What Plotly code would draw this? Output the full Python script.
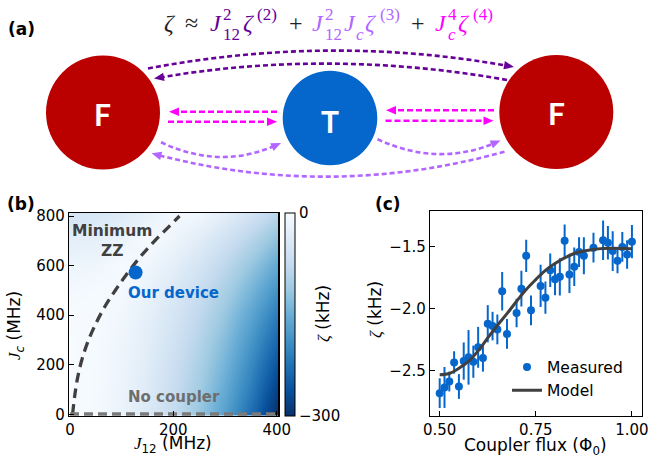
import math
import plotly.graph_objects as go

W, H = 649, 460

# ---------------- data ----------------
# panel (b): ZZ map (kHz) on a J12 x Jc grid (MHz)
j12_grid = [0, 50, 100, 150, 200, 250, 300, 350, 400]
jc_grid = [0, 100, 200, 300, 400, 500, 600, 700, 800]
zeta_map = [
    [0.0, -4.7, -18.8, -42.2, -75.0, -117.0, -169.0, -230.0, -300.0],
    [0.0, -4.3, -17.3, -39.0, -69.0, -108.0, -156.0, -212.0, -280.0],
    [-0.1, -3.9, -15.8, -35.7, -64.0, -99.5, -143.0, -197.0, -258.0],
    [-0.7, -2.9, -13.8, -32.0, -57.5, -90.0, -131.0, -180.0, -236.0],
    [-2.3, -1.0, -10.8, -27.3, -50.0, -80.0, -117.0, -162.0, -212.0],
    [-6.5, -3.0, -6.1, -20.8, -41.4, -68.0, -101.0, -141.0, -186.0],
    [-15.0, -12.0, -2.0, -11.6, -29.7, -53.0, -82.5, -118.0, -158.0],
    [-29.0, -26.0, -16.0, -2.0, -14.2, -34.3, -60.0, -90.0, -126.0],
    [-50.0, -46.0, -37.0, -23.0, -6.7, -10.3, -32.0, -57.0, -88.0],
]
min_zz_j12 = [5, 9.5, 15, 23, 35, 51, 69, 91, 115, 138, 164, 193, 212]
min_zz_jc = [0, 80, 150, 220, 295, 370, 440, 510, 580, 640, 700, 760, 800]
no_coupler_j12 = [0, 400]
no_coupler_jc = [0, 0]
device_j12 = [127]
device_jc = [572]

# panel (c): measured ZZ vs coupler flux
flux_meas = [0.5000, 0.5125, 0.5250, 0.5375, 0.5500, 0.5625, 0.5750, 0.5875, 0.6000,
             0.6125, 0.6250, 0.6375, 0.6500, 0.6625, 0.6750, 0.7000, 0.7125, 0.7250,
             0.7375, 0.7625, 0.7750, 0.7875, 0.8000, 0.8125, 0.8250, 0.8375, 0.8500,
             0.8625, 0.8750, 0.9000, 0.9250, 0.9375, 0.9500, 0.9625, 0.9750, 0.9875, 1.0000]
zeta_meas = [-2.681, -2.635, -2.587, -2.433, -2.627, -2.422, -2.392, -2.427, -2.311,
             -2.397, -2.121, -2.140, -2.167, -1.859, -2.203, -2.035, -1.838, -1.573,
             -2.013, -1.816, -1.911, -1.689, -1.762, -1.743, -1.451, -1.724, -1.662,
             -1.543, -1.573, -1.508, -1.448, -1.468, -1.535, -1.613, -1.502, -1.562, -1.459]
zeta_err = [0.12, 0.165, 0.08, 0.09, 0.10, 0.15, 0.22, 0.13, 0.165,
            0.11, 0.15, 0.115, 0.12, 0.155, 0.12, 0.115, 0.145, 0.13,
            0.12, 0.17, 0.13, 0.135, 0.13, 0.15, 0.13, 0.15, 0.155,
            0.12, 0.15, 0.12, 0.16, 0.135, 0.16, 0.10, 0.12, 0.115, 0.135]
flux_model = [0.50, 0.525, 0.55, 0.575, 0.60, 0.625, 0.65, 0.675, 0.70, 0.725, 0.75,
              0.775, 0.80, 0.825, 0.85, 0.875, 0.90, 0.925, 0.95, 0.975, 1.00]
zeta_model = [-2.532, -2.522, -2.48, -2.425, -2.34, -2.235, -2.135, -2.04, -1.94, -1.845,
              -1.765, -1.69, -1.635, -1.59, -1.555, -1.535, -1.522, -1.515, -1.513, -1.514, -1.516]

b_xticks = [0, 200, 400]
b_yticks = [0, 200, 400, 600, 800]
c_xticks = [0.5, 0.75, 1.0]
c_xticktext = ["0.50", "0.75", "1.00"]
c_yticks = [-2.5, -2.0, -1.5]
c_yticktext = ["\u22122.5", "\u22122.0", "\u22121.5"]

# ---------------- styles ----------------
RED = "#bb0000"
BLUE = "#0566cc"
DPURPLE = "#660099"
LPURPLE = "#b266ff"
MAGENTA = "#ff00ff"
DGRAY = "#404040"
FONT = "DejaVu Sans"
SERIF = "Liberation Serif"

blues_r = [[0.0, "rgb(8,48,107)"], [0.125, "rgb(8,81,156)"], [0.25, "rgb(33,113,181)"],
           [0.375, "rgb(66,146,198)"], [0.5, "rgb(107,174,214)"], [0.625, "rgb(158,202,225)"],
           [0.75, "rgb(198,219,239)"], [0.875, "rgb(222,235,247)"], [1.0, "rgb(247,251,255)"]]


def px(x):
    return x / W


def py(y):
    return 1 - y / H


fig = go.Figure()

# ---------------- panel (b) ----------------
fig.add_trace(go.Heatmap(
    x=j12_grid, y=jc_grid, z=zeta_map, zmin=-300, zmax=0, colorscale=blues_r,
    zsmooth="best", xaxis="x", yaxis="y", showlegend=False, hoverinfo="skip",
    colorbar=dict(x=px(285), xanchor="left", xpad=0, ypad=0, thickness=10,
                  thicknessmode="pixels", len=(415.7 - 212.7) / H, lenmode="fraction",
                  y=py(415.7), yanchor="bottom", outlinewidth=1, outlinecolor="black",
                  tickvals=[-300, 0], ticktext=["\u2212300", "0"], ticks="inside",
                  ticklen=4, tickcolor="black",
                  tickfont=dict(family=FONT, size=15, color="black")),
))
fig.add_trace(go.Scatter(x=min_zz_j12, y=min_zz_jc, mode="lines", xaxis="x", yaxis="y",
                         line=dict(color=DGRAY, width=3.3, dash="10px,6px", shape="spline"),
                         showlegend=False, hoverinfo="skip"))
fig.add_trace(go.Scatter(x=no_coupler_j12, y=no_coupler_jc, mode="lines", xaxis="x", yaxis="y",
                         line=dict(color="#7a7a7a", width=4, dash="9px,5px"),
                         showlegend=False, hoverinfo="skip"))
fig.add_trace(go.Scatter(x=device_j12, y=device_jc, mode="markers", xaxis="x", yaxis="y",
                         marker=dict(color=BLUE, size=14), showlegend=False, hoverinfo="skip"))

# ---------------- panel (c) ----------------
fig.add_trace(go.Scatter(x=flux_meas, y=zeta_meas, mode="markers", name="Measured",
                         xaxis="x2", yaxis="y2", hoverinfo="skip",
                         marker=dict(color=BLUE, size=8),
                         error_y=dict(type="data", array=zeta_err, color=BLUE, thickness=2, width=0)))
fig.add_trace(go.Scatter(x=flux_model, y=zeta_model, mode="lines", name="Model",
                         xaxis="x2", yaxis="y2", hoverinfo="skip",
                         line=dict(color=DGRAY, width=3, shape="spline")))

axis_common = dict(showgrid=False, zeroline=False, showline=True, linecolor="black",
                   linewidth=1.2, mirror=True, ticks="inside", ticklen=5, tickwidth=1,
                   tickcolor="black", automargin=False, fixedrange=True,
                   tickfont=dict(family=FONT, size=15, color="black"))

fig.update_layout(
    width=W, height=H, margin=dict(l=0, r=0, t=0, b=0, pad=0, autoexpand=False),
    paper_bgcolor="white", plot_bgcolor="white", hovermode=False,
    xaxis=dict(domain=[px(69), px(278.3)], anchor="y", range=[-1.9, 403.1],
               tickvals=b_xticks, **axis_common),
    yaxis=dict(domain=[py(415.7), py(212.7)], anchor="x", range=[-5.6, 813.3],
               tickvals=b_yticks, **axis_common),
    xaxis2=dict(domain=[px(430), px(641.5)], anchor="y2", range=[0.4748, 1.0249],
                tickvals=c_xticks, ticktext=c_xticktext, **axis_common),
    yaxis2=dict(domain=[py(416), py(211)], anchor="x2", range=[-2.865, -1.212],
                tickvals=c_yticks, ticktext=c_yticktext, **axis_common),
    legend=dict(x=px(507), y=py(350.5), xanchor="left", yanchor="top",
                bgcolor="rgba(0,0,0,0)", font=dict(family=FONT, size=15.5, color="black"),
                tracegroupgap=0),
)

# ---------------- panel (a) diagram ----------------
shapes = []


def circle(cx, cy, r, color):
    shapes.append(dict(type="circle", xref="paper", yref="paper",
                       x0=px(cx - r), x1=px(cx + r), y0=py(cy + r), y1=py(cy - r),
                       fillcolor=color, line=dict(width=0), layer="above"))


def P(x, y):
    return f"{px(x):.5f},{py(y):.5f}"


def head(tip, d, color, L=10, w=4.2):
    n = (-d[1], d[0])
    bx, by = tip[0] - L * d[0], tip[1] - L * d[1]
    p1 = (bx + w * n[0], by + w * n[1])
    p2 = (bx - w * n[0], by - w * n[1])
    shapes.append(dict(type="path", xref="paper", yref="paper",
                       path=f"M{P(*tip)} L{P(*p1)} L{P(*p2)} Z",
                       fillcolor=color, line=dict(width=0), layer="above"))


def unit(a, b):
    dx, dy = b[0] - a[0], b[1] - a[1]
    m = math.hypot(dx, dy)
    return (dx / m, dy / m)


def curved_arrow(start, ctrl, tip, color):
    d = unit(ctrl, tip)
    end = (tip[0] - 6 * d[0], tip[1] - 6 * d[1])
    shapes.append(dict(type="path", xref="paper", yref="paper",
                       path=f"M{P(*start)} Q{P(*ctrl)} {P(*end)}",
                       line=dict(color=color, width=2.6, dash="5px,3px"), layer="above"))
    head(tip, d, color)


def straight_arrow(start, tip, color):
    d = unit(start, tip)
    end = (tip[0] - 6 * d[0], tip[1] - 6 * d[1])
    shapes.append(dict(type="path", xref="paper", yref="paper",
                       path=f"M{P(*start)} L{P(*end)}",
                       line=dict(color=color, width=2.6, dash="6px,3px"), layer="above"))
    head(tip, d, color)


circle(103, 112.5, 57, RED)
circle(330, 118, 47.3, BLUE)
circle(556.3, 112, 57, RED)

curved_arrow((148, 68.5), (330, 34), (514, 67), DPURPLE)
curved_arrow((507, 80), (330, 48.5), (154, 78.5), DPURPLE)
straight_arrow((277, 111.7), (169, 111.7), MAGENTA)
straight_arrow((168, 121.7), (277, 121.7), MAGENTA)
straight_arrow((494, 110.3), (386, 110.3), MAGENTA)
straight_arrow((385.5, 120.7), (493.5, 120.7), MAGENTA)
curved_arrow((161, 142.3), (220, 170), (281, 143), LPURPLE)
curved_arrow((377.5, 139.3), (438, 167), (500.5, 140.5), LPURPLE)
curved_arrow((504.5, 151.7), (330, 200), (151.5, 153.3), LPURPLE)

annotations = []


def txt(x, y, s, size, color="black", family=FONT, xanchor="center", angle=0):
    annotations.append(dict(xref="paper", yref="paper", x=px(x), y=py(y), text=s,
                            showarrow=False, xanchor=xanchor, yanchor="middle",
                            textangle=angle, font=dict(family=family, size=size, color=color)))


# node labels
txt(103, 114, "<b>F</b>", 30, "white", "Lato")
txt(330, 121, "<b>T</b>", 30, "white", "Lato")
txt(556.3, 113, "<b>F</b>", 30, "white", "Lato")

# equation
MAIN, SCR = 24, 17
cm, cs_sup, cs_sub = 23.4, 14.0, 34.0
BLK = "#222222"
eq = [
    ("<i>\u03b6</i>", 170, cm, MAIN, BLK),
    ("\u2248", 191.7, cm, MAIN, BLK),
    ("<i>J</i>", 215.8, cm, MAIN, DPURPLE),
    ("2", 227.5, cs_sup, SCR, DPURPLE),
    ("12", 231.7, cs_sub, SCR, DPURPLE),
    ("<i>\u03b6</i>", 249.2, cm, MAIN, DPURPLE),
    ("(2)", 266.7, cs_sup, SCR, DPURPLE),
    ("+", 295.8, cm, MAIN, BLK),
    ("<i>J</i>", 317.5, cm, MAIN, LPURPLE),
    ("2", 329.2, cs_sup, SCR, LPURPLE),
    ("12", 333.3, cs_sub, SCR, LPURPLE),
    ("<i>J</i>", 350, cm, MAIN, LPURPLE),
    ("<i>c</i>", 360, cs_sub, SCR, LPURPLE),
    ("<i>\u03b6</i>", 370.8, cm, MAIN, LPURPLE),
    ("(3)", 390, cs_sup, SCR, LPURPLE),
    ("+", 418.3, cm, MAIN, BLK),
    ("<i>J</i>", 440.8, cm, MAIN, MAGENTA),
    ("4", 452.5, cs_sup, SCR, MAGENTA),
    ("<i>c</i>", 451.7, cs_sub, SCR, MAGENTA),
    ("<i>\u03b6</i>", 464.2, cm, MAIN, MAGENTA),
    ("(4)", 483.3, cs_sup, SCR, MAGENTA),
]
for s, x, y, size, col in eq:
    txt(x, y, s, size, col, SERIF)

# panel letters
txt(21, 29, "<b>(a)</b>", 17)
txt(21, 204, "<b>(b)</b>", 17)
txt(388.3, 204, "<b>(c)</b>", 17)

# panel (b) in-plot labels
annotations.append(dict(xref="x", yref="y", x=80.7, y=701, text="<b>Minimum<br>ZZ</b>",
                        showarrow=False, font=dict(family=FONT, size=15.5, color=DGRAY)))
annotations.append(dict(xref="x", yref="y", x=200.8, y=488, text="<b>Our device</b>",
                        showarrow=False, font=dict(family=FONT, size=15, color=BLUE)))
annotations.append(dict(xref="x", yref="y", x=201.6, y=71, text="<b>No coupler</b>",
                        showarrow=False, font=dict(family=FONT, size=15, color="#6e6e6e")))

JS = "<span style='font-family:Liberation Serif'><i>J</i></span>"
txt(173, 444.5, f"{JS}<sub>12</sub> (MHz)", 17)
txt(15, 326, f"{JS}<sub><i>c</i></sub> (MHz)", 17, angle=-90)
txt(323, 314, "<span style='font-family:Liberation Serif'><i>\u03b6</i></span> (kHz)", 17, angle=-90)
txt(375, 310, "<span style='font-family:Liberation Serif'><i>\u03b6</i></span> (kHz)", 17, angle=-90)
txt(535.7, 446, "Coupler flux (\u03a6<sub>0</sub>)", 17)

fig.update_layout(shapes=shapes, annotations=annotations)
fig.write_html("out.html", config={"displayModeBar": False, "staticPlot": True},
               post_script="document.body.style.margin='0';")
